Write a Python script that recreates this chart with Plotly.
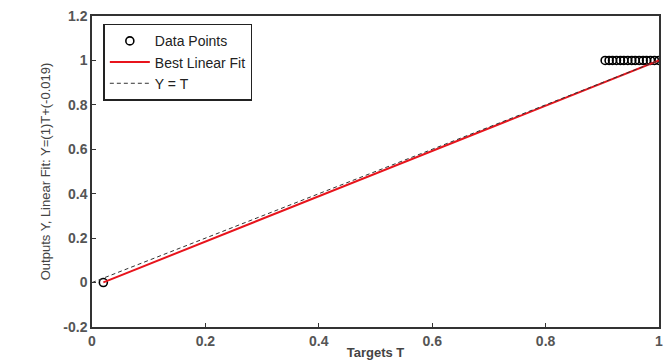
import plotly.graph_objects as go

# Data
targets_pts = [0.02, 0.905, 0.912, 0.918, 0.925, 0.932, 0.938, 0.945, 0.952, 0.958,
               0.965, 0.972, 0.978, 0.985, 0.992, 1.0]
outputs_pts = [0.0] + [1.0] * 15
fit_x = [0.02, 1.0]
fit_y = [0.001, 1.0]
ident_x = [0.0, 1.0]
ident_y = [0.0, 1.0]
x_ticks = [0, 0.2, 0.4, 0.6, 0.8, 1]
x_tick_labels = ["0", "0.2", "0.4", "0.6", "0.8", "1"]
y_ticks = [-0.2, 0, 0.2, 0.4, 0.6, 0.8, 1, 1.2]
y_tick_labels = ["-0.2", "0", "0.2", "0.4", "0.6", "0.8", "1", "1.2"]

fig = go.Figure()
fig.add_trace(go.Scatter(x=targets_pts, y=outputs_pts, mode="markers", name="Data Points",
                         marker=dict(symbol="circle-open", size=8, color="black", line=dict(width=1.6))))
fig.add_trace(go.Scatter(x=fit_x, y=fit_y, mode="lines", name="Best Linear Fit",
                         line=dict(color="#e8141c", width=2)))
fig.add_trace(go.Scatter(x=ident_x, y=ident_y, mode="lines", name="Y = T",
                         line=dict(color="#333333", width=1, dash="4px,3px")))

axis_common = dict(showgrid=False, zeroline=False, showline=True, linecolor="#333333", linewidth=1.5,
                   mirror=True, ticks="inside", ticklen=4, tickcolor="#333333",
                   ticklabeloverflow="allow",
                   tickfont=dict(family="Liberation Sans, Arial", size=14, color="#555555", weight="bold"))
fig.update_xaxes(range=[0, 1], tickvals=x_ticks, ticktext=x_tick_labels,
                 title=dict(text="<b>Targets T</b>", font=dict(family="Liberation Sans, Arial", size=13, color="#444444"), standoff=0),
                 **axis_common)
fig.update_yaxes(range=[-0.2, 1.2], tickvals=y_ticks, ticktext=y_tick_labels,
                 title=dict(text="Outputs Y, Linear Fit: Y=(1)T+(-0.019)", font=dict(family="Liberation Sans Narrow, Liberation Sans, Arial", size=13, color="#444444"), standoff=10),
                 **axis_common)
fig.update_layout(
    width=665, height=360,
    margin=dict(l=92, r=2, t=16, b=32),
    plot_bgcolor="white", paper_bgcolor="white",
    showlegend=True,
    legend=dict(x=0.02, y=0.975, xanchor="left", yanchor="top",
                bgcolor="white", bordercolor="#222222", borderwidth=1.5,
                font=dict(family="Liberation Sans, Arial", size=14, color="#222222"),
                tracegroupgap=0, itemwidth=40),
)
fig.write_html("out.html")
